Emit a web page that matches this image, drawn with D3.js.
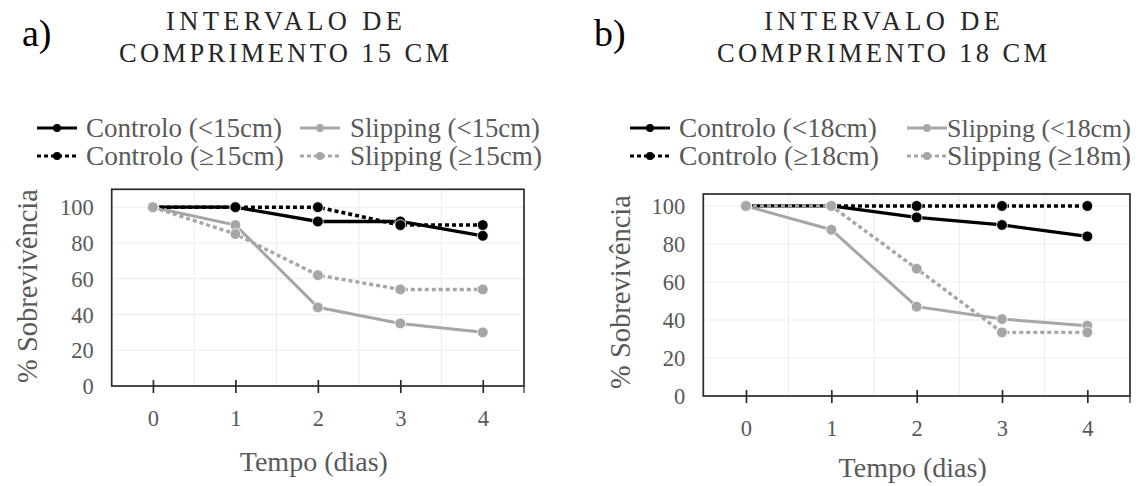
<!DOCTYPE html>
<html><head><meta charset="utf-8">
<script src="https://cdn.jsdelivr.net/npm/d3@7"></script>
<style>
body{margin:0;background:#fff;}
svg{display:block;}
</style></head>
<body>
<svg id="chart" width="1147" height="486"></svg>
<script>
// ---------- DATA ----------
const days = [0, 1, 2, 3, 4];
const yTicks = [0, 20, 40, 60, 80, 100];

// Panel a) length interval 15 cm
const controloLt15 = [100, 100, 92, 92, 84];
const slippingLt15 = [100, 90, 44, 35, 30];
const controloGe15 = [100, 100, 100, 90, 90];
const slippingGe15 = [100, 85, 62, 54, 54];

// Panel b) length interval 18 cm
const controloLt18 = [100, 100, 94, 90, 84];
const slippingLt18 = [100, 87.5, 47, 40.5, 37];
const controloGe18 = [100, 100, 100, 100, 100];
const slippingGe18 = [100, 100, 67, 33.5, 33.5];

const titlesA = ["INTERVALO DE", "COMPRIMENTO 15 CM"];
const titlesB = ["INTERVALO DE", "COMPRIMENTO 18 CM"];
const legendA = ["Controlo (<15cm)", "Slipping (<15cm)", "Controlo (\u226515cm)", "Slipping (\u226515cm)"];
const legendB = ["Controlo (<18cm)", "Slipping (<18cm)", "Controlo (\u226518cm)", "Slipping (\u226518m)"];
const yTitle = "% Sobrevivência";
const xTitle = "Tempo (dias)";

// ---------- STYLE ----------
const FONT = '"Liberation Serif", "Times New Roman", Tinos, serif';
const BLACK = "#000000", GRAY = "#a6a6a6";
const seriesStyle = [
  {color: BLACK, dash: null, w: 3.3},
  {color: GRAY, dash: null, w: 3},
  {color: BLACK, dash: "4,3", w: 3.6},
  {color: GRAY, dash: "4,3", w: 3.4}
];

const panels = [
  {label: "a)", labelX: 22, titles: titlesA, titleX: 284, legend: legendA,
   series: [controloLt15, slippingLt15, controloGe15, slippingGe15],
   box: {x0: 111.7, x1: 524, y0: 189.3, y1: 386}, yMax: 110,
   legCols: [37, 300], legText: [86, 350], yTitleX: 27, yTitleY: 286, xTitleY: 471,
   legW: [196, 190, 198, 192]},
  {label: "b)", labelX: 594, titles: titlesB, titleX: 882, legend: legendB,
   series: [controloLt18, slippingLt18, controloGe18, slippingGe18],
   box: {x0: 703.3, x1: 1130, y0: 194, y1: 396}, yMax: 106.3,
   legCols: [630, 907], legText: [679, 947], yTitleX: 620, yTitleY: 292, xTitleY: 477,
   legW: [198, 184, 200, 184]}
];

// scale a text's font size so that its width equals the target
function sizeTo(sel, target, maxSize) {
  const fs = parseFloat(sel.style("font-size"));
  const w = sel.node().getComputedTextLength();
  let nf = fs * target / w;
  if (maxSize) nf = Math.min(nf, maxSize);
  sel.style("font-size", nf + "px");
  return sel;
}
function txt(parent) {
  return parent.append("text").style("font-family", FONT);
}

const svg = d3.select("#chart");

panels.forEach(p => {
  const g = svg.append("g");
  const b = p.box;
  const x = d3.scaleLinear().domain([-0.5, 4.5]).range([b.x0, b.x1]);
  const y = d3.scaleLinear().domain([0, p.yMax]).range([b.y1, b.y0]);

  // panel label
  txt(g).attr("x", p.labelX).attr("y", 46).style("font-size", "38px")
    .attr("fill", "#000").text(p.label);
  // title
  const tW = [236, 330];
  p.titles.forEach((t, i) => {
    const tt = txt(g).attr("x", p.titleX).attr("y", 30 + i * 32)
      .attr("text-anchor", "middle").style("font-size", "26.5px")
      .attr("fill", "#262626").text(t);
    tt.attr("textLength", tW[i]).attr("lengthAdjust", "spacing");
  });

  // gridlines
  g.append("g").selectAll("line").data(yTicks.filter(d => d > 0)).join("line")
    .attr("x1", b.x0).attr("x2", b.x1).attr("y1", d => y(d)).attr("y2", d => y(d))
    .attr("stroke", "#ededed").attr("stroke-width", 1);
  g.append("g").selectAll("line").data(days.slice(0, 4).map(d => d + 0.5)).join("line")
    .attr("x1", d => x(d)).attr("x2", d => x(d)).attr("y1", b.y0).attr("y2", b.y1)
    .attr("stroke", "#ededed").attr("stroke-width", 1);

  // plot box border
  g.append("rect").attr("x", b.x0).attr("y", b.y0).attr("width", b.x1 - b.x0)
    .attr("height", b.y1 - b.y0).attr("fill", "none").attr("stroke", "#2b2b2b")
    .attr("stroke-width", 1.7);

  // x axis (ticks crossing)
  const xAxis = d3.axisBottom(x).tickValues(days).tickSize(0).tickFormat(d3.format("d"));
  const xa = g.append("g").attr("transform", `translate(0,${b.y1})`).call(xAxis);
  xa.select(".domain").remove();
  xa.selectAll("text").attr("dy", 0).attr("y", 40)
    .style("font-family", FONT).style("font-size", "22.5px").attr("fill", "#595959");
  xa.selectAll(".tick").append("line").attr("y1", -6).attr("y2", 7)
    .attr("stroke", "#2b2b2b").attr("stroke-width", 1.7);
  g.append("line").attr("x1", b.x1).attr("x2", b.x1).attr("y1", b.y1).attr("y2", b.y1 + 7)
    .attr("stroke", "#2b2b2b").attr("stroke-width", 1.2);

  // y axis labels
  const yAxis = d3.axisLeft(y).tickValues(yTicks).tickSize(0).tickFormat(d3.format("d"));
  const ya = g.append("g").attr("transform", `translate(${b.x0},0)`).call(yAxis);
  ya.select(".domain").remove();
  ya.selectAll("text").attr("x", -18).attr("dy", "0.34em")
    .style("font-family", FONT).style("font-size", "22.5px").attr("fill", "#595959");

  // axis titles
  txt(g).attr("transform", `translate(${p.yTitleX},${p.yTitleY}) rotate(-90)`)
    .attr("text-anchor", "middle").attr("dy", "0.34em").style("font-size", "28.5px")
    .attr("fill", "#595959").text(yTitle);
  txt(g).attr("x", (b.x0 + b.x1) / 2 - 4).attr("y", p.xTitleY)
    .attr("text-anchor", "middle").style("font-size", "28px").attr("fill", "#595959").text(xTitle);

  // series
  const line = d3.line().x((d, i) => x(days[i])).y(d => y(d));
  p.series.forEach((s, k) => {
    const st = seriesStyle[k];
    g.append("path").datum(s).attr("d", line).attr("fill", "none")
      .attr("stroke", st.color).attr("stroke-width", st.w)
      .attr("stroke-dasharray", st.dash);
    g.append("g").selectAll("circle").data(s).join("circle")
      .attr("cx", (d, i) => x(days[i])).attr("cy", d => y(d)).attr("r", 5.4)
      .attr("fill", st.color).attr("stroke", "#fff").attr("stroke-width", 0.8);
  });

  // legend
  const rows = [128, 156];
  p.legend.forEach((t, k) => {
    const st = seriesStyle[k];
    const col = k % 2, row = Math.floor(k / 2);
    const lx = p.legCols[col], ly = rows[row];
    g.append("line").attr("x1", lx).attr("x2", lx + 40).attr("y1", ly).attr("y2", ly)
      .attr("stroke", st.color).attr("stroke-width", 3).attr("stroke-dasharray", st.dash);
    g.append("circle").attr("cx", lx + 20).attr("cy", ly).attr("r", 4).attr("fill", st.color);
    const lt = txt(g).attr("x", p.legText[col]).attr("y", ly).attr("dy", "0.34em")
      .style("font-size", "26px").attr("fill", "#595959").text(t);
    sizeTo(lt, p.legW[k], 28);
  });
});
</script>
</body></html>
